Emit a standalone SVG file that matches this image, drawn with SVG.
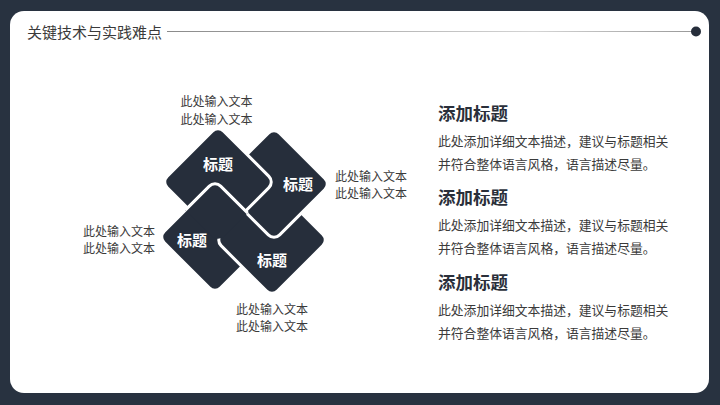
<svg xmlns="http://www.w3.org/2000/svg" xmlns:xlink="http://www.w3.org/1999/xlink" width="720" height="405" viewBox="0 0 720 405">
  <style>
    text { font-family: "Noto Sans CJK SC", "Noto Sans", sans-serif; }
    .hdr { font-size: 15px; fill: #3a3a3a; }
    .side { font-size: 12px; fill: #3a3a3a; }
    .lbl { font-size: 15px; font-weight: bold; fill: #ffffff; text-anchor: middle; }
    .h2 { font-size: 17.5px; font-weight: bold; fill: #2a2f3a; }
    .body { font-size: 12.8px; fill: #3a3a3a; }
    .dia { fill: #262e3b; stroke: #ffffff; stroke-width: 3; }
  </style>
  <defs>
    <linearGradient id="lg" gradientUnits="userSpaceOnUse" x1="167" y1="0" x2="692" y2="0">
      <stop offset="0" stop-color="#8a8a8a"/>
      <stop offset="0.7" stop-color="#d4d4d4"/>
      <stop offset="1" stop-color="#9a9a9a"/>
    </linearGradient>
    <rect id="sq" x="-40" y="-40" width="80" height="80" rx="8" class="dia"/>
    <clipPath id="tlclip">
      <rect x="-43" y="-43" width="86" height="86" rx="10" transform="translate(218,182) rotate(45)"/>
    </clipPath>
  </defs>

  <rect x="0" y="0" width="720" height="405" fill="#283240"/>
  <rect x="10" y="11" width="699" height="382" rx="14" fill="#ffffff"/>

  <g id="header">
    <text class="hdr" x="27" y="37.5">关键技术与实践难点</text>
    <line x1="167" y1="31.5" x2="692" y2="31.5" stroke="url(#lg)" stroke-width="1"/>
    <circle cx="696" cy="31.5" r="5" fill="#262e3b"/>
  </g>

  <g id="node-bl">
    <use xlink:href="#sq" transform="translate(215,237) rotate(45)"/>
    <text class="lbl" x="192" y="245.5">标题</text>
  </g>
  <g id="node-br">
    <use xlink:href="#sq" transform="translate(272,240) rotate(45)"/>
    <text class="lbl" x="272" y="265.5">标题</text>
  </g>
  <g id="node-tr">
    <use xlink:href="#sq" transform="translate(274,184) rotate(45)"/>
    <text class="lbl" x="298" y="189.5">标题</text>
  </g>
  <g id="node-tl">
    <use xlink:href="#sq" transform="translate(218,182) rotate(45)"/>
    <text class="lbl" x="218" y="169.5">标题</text>
  </g>
  <g id="weave" clip-path="url(#tlclip)">
    <use xlink:href="#sq" transform="translate(215,237) rotate(45)"/>
  </g>

  <g id="side-texts">
    <text class="side" x="216.5" y="105.5" text-anchor="middle">此处输入文本</text>
    <text class="side" x="216.5" y="123.5" text-anchor="middle">此处输入文本</text>
    <text class="side" x="335" y="180.5">此处输入文本</text>
    <text class="side" x="335" y="198">此处输入文本</text>
    <text class="side" x="155" y="235.5" text-anchor="end">此处输入文本</text>
    <text class="side" x="155" y="253" text-anchor="end">此处输入文本</text>
    <text class="side" x="272" y="313.5" text-anchor="middle">此处输入文本</text>
    <text class="side" x="272" y="331" text-anchor="middle">此处输入文本</text>
  </g>

  <g id="item-1">
    <text class="h2" x="438" y="119.5">添加标题</text>
    <text class="body" x="438" y="146">此处添加详细文本描述，建议与标题相关</text>
    <text class="body" x="438" y="169">并符合整体语言风格，语言描述尽量。</text>
  </g>
  <g id="item-2">
    <text class="h2" x="438" y="203.5">添加标题</text>
    <text class="body" x="438" y="230">此处添加详细文本描述，建议与标题相关</text>
    <text class="body" x="438" y="253">并符合整体语言风格，语言描述尽量。</text>
  </g>
  <g id="item-3">
    <text class="h2" x="438" y="288.5">添加标题</text>
    <text class="body" x="438" y="315">此处添加详细文本描述，建议与标题相关</text>
    <text class="body" x="438" y="338">并符合整体语言风格，语言描述尽量。</text>
  </g>
</svg>
